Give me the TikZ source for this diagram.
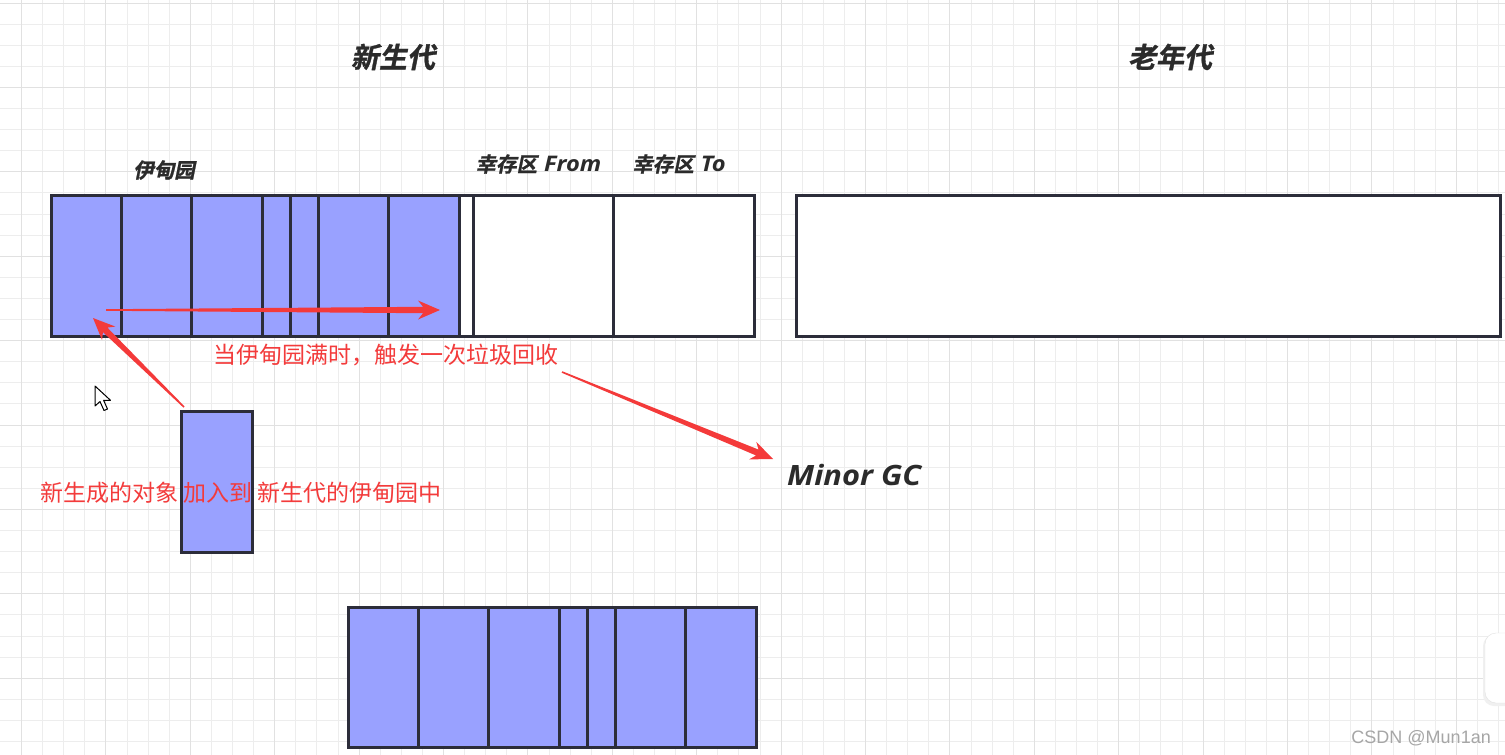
\documentclass[tikz,border=0pt]{standalone}
\usepackage{fontspec}
\setmainfont{Open Sans}
\newfontfamily\cjk{Noto Sans CJK SC}
\newfontfamily\cjkhead[FakeSlant=0.2,FakeBold=1.2]{Noto Sans CJK SC Bold}
\newfontfamily\wmfont{Liberation Sans}
\usepackage{tikz}
\usetikzlibrary{calc,positioning}
\definecolor{cCell}{HTML}{99A1FF}
\definecolor{cEdge}{HTML}{2C2D3A}
\definecolor{cInk}{HTML}{2B2B2B}
\definecolor{cRed}{HTML}{F33B3B}
\definecolor{cArrow}{HTML}{F43A3A}
\definecolor{cGridMin}{HTML}{EDEDED}
\definecolor{cGridMaj}{HTML}{E1E1E1}
\definecolor{cWater}{HTML}{A6A6A6}
\tikzset{
  bcell/.style={draw=cEdge,fill=cCell,line width=3pt,minimum height=141,inner sep=0pt,outer sep=0pt},
  wcell/.style={draw=cEdge,fill=white,line width=3pt,minimum height=141,inner sep=0pt,outer sep=0pt},
  head/.style={font=\cjkhead\fontsize{28}{32}\selectfont,text=cInk,inner sep=0pt},
  sublbl/.style={font=\cjkhead\fontsize{20.5}{24}\selectfont,text=cInk,inner sep=0pt},
  note/.style={font=\cjk\fontsize{23}{26}\selectfont,text=cRed,inner sep=0pt},
  gclbl/.style={font=\bfseries\itshape\fontsize{28}{30}\selectfont\addfontfeatures{FakeStretch=1.1},text=cInk,inner sep=0pt},
  gmin/.style={cGridMin,line width=1pt},
  gmaj/.style={cGridMaj,line width=1pt},
}
\newcommand\latbi[1]{{\normalfont\bfseries\itshape\fontsize{21.5}{24}\selectfont\addfontfeatures{FakeStretch=1.1}#1}}
% tapered red arrow: thin tail, swept head
\newcommand\redarrow[2]{%
  \fill[cArrow] ($(#1)!0.8pt!90:(#2)$)
    -- ($($(#2)!17pt!(#1)$)!3.2pt!90:(#2)$) -- ($($(#2)!22pt!(#1)$)!9.5pt!90:(#2)$)
    -- (#2)
    -- ($($(#2)!22pt!(#1)$)!9.5pt!-90:(#2)$) -- ($($(#2)!17pt!(#1)$)!3.2pt!-90:(#2)$)
    -- ($(#1)!0.8pt!-90:(#2)$) -- cycle;}

\begin{document}
\begin{tikzpicture}[x=1pt,y=-1pt]
  \useasboundingbox (0,0) rectangle (1505,755);
  \fill[white] (0,0) rectangle (1505,755);
  % background grid
  \foreach \i in {0,...,70} {\draw[gmin] ({round(21+\i*21.1)+0.5},0) -- ++(0,755);}
  \foreach \j in {0,...,35} {\draw[gmin] (0,{round(2.5+\j*21.1)+0.5}) -- ++(1505,0);}
  \foreach \i in {0,4,...,68} {\draw[gmaj] ({round(21+\i*21.1)+0.5},0) -- ++(0,755);}
  \foreach \j in {0,4,...,32} {\draw[gmaj] (0,{round(2.5+\j*21.1)+0.5}) -- ++(1505,0);}

  % titles
  \node[head] (youngT) at (393,57) {新生代};
  \node[head] (oldT) at (1170,57) {老年代};
  \node[sublbl] (edenT) at (164,170) {伊甸园};
  \node[sublbl] (fromT) at (538.5,164) {幸存区\hspace{7pt}\latbi{From}};
  \node[sublbl] (toT) at (679,164) {幸存区\hspace{7pt}\latbi{To}};

  % young generation
  \foreach \a/\b [count=\i] in {51/121,121/191,191/262,262/290,290/318,318/388,388/459}
    {\node[bcell,minimum width={\b-\a}] (eden\i) at ({(\a+\b)/2},265.5) {};}
  \node[wcell,minimum width=14] (gap) at (466,265.5) {};
  \node[wcell,minimum width=140] (from) at (543,265.5) {};
  \node[wcell,minimum width=141] (to) at (683.5,265.5) {};
  % old generation
  \node[wcell,minimum width=704] (old) at (1148,265.5) {};

  % new object
  \node[bcell,minimum width=71] (obj) at (216.5,481.5) {};

  % eden after collection
  \foreach \a/\b [count=\i] in {348/418,418/488,488/559,559/587,587/615,615/685,685/756}
    {\node[bcell,minimum width={\b-\a},minimum height=140] (after\i) at ({(\a+\b)/2},677) {};}

  % notes
  \node[note,anchor=west] (fullmsg) at (213,355) {当伊甸园满时，触发一次垃圾回收};
  \node[note,anchor=west] (newmsg) at (40,493) {新生成的对象 加入到 新生代的伊甸园中};
  \node[gclbl,anchor=west] (gc) at (787,475) {Minor GC};

  % arrows
  \coordinate (sweepS) at (106,310);
  \coordinate (sweepE) at (440,310);
  \coordinate (edenIn) at (93,318);
  \coordinate (objTop) at ($(obj.north west)+(3,-4)$);
  \coordinate (msgOut) at (562,372);
  \coordinate (gcIn) at (773,459);
  \redarrow{sweepS}{sweepE}
  \redarrow{objTop}{edenIn}
  \redarrow{msgOut}{gcIn}

  % mouse pointer
  \filldraw[fill=white,draw=black,line width=1pt,line join=round]
    (95,386) -- (95,406) -- (100,401.5) -- (104,410.5) -- (107.5,409) -- (103.6,400.3) -- (110.5,400.3) -- cycle;

  % side handle
  \filldraw[fill=cGridMaj!50,draw=none,rounded corners=11pt] (1483,635) rectangle (1540,706);
  \filldraw[fill=white,draw=cGridMaj,rounded corners=11pt] (1485,633) rectangle (1540,703);

  % watermark
  \node[anchor=east,font=\wmfont\fontsize{18}{20}\selectfont,text=cWater,inner sep=0pt] (mark) at (1491,738) {CSDN @Mun1an};
\end{tikzpicture}
\end{document}
